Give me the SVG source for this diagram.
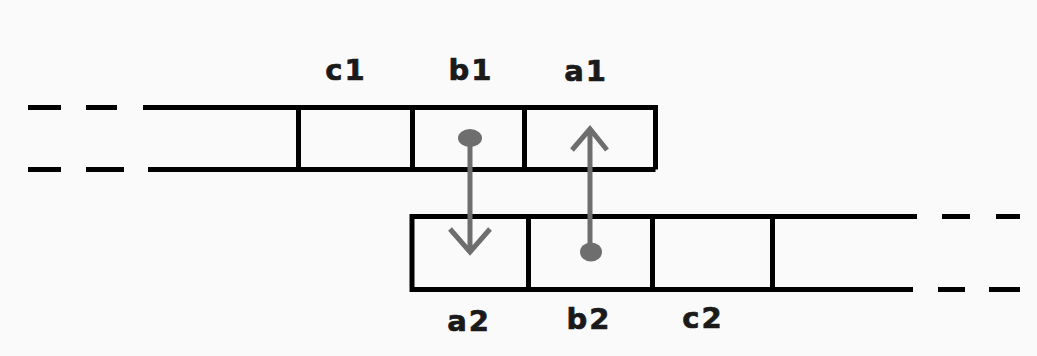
<svg xmlns="http://www.w3.org/2000/svg" width="1037" height="356" viewBox="0 0 1037 356">
  <style>
    .edge { fill: none; stroke: #000; stroke-width: 5; }
    .label { font-family: "DejaVu Sans", "Liberation Sans", sans-serif; font-weight: bold; font-size: 29px; fill: #1a1a1a; stroke: #1a1a1a; stroke-width: 0.7; text-anchor: middle; letter-spacing: 2px; }
    .link { fill: none; stroke: #6e6e6e; stroke-width: 5; }
    .dot { fill: #6e6e6e; }
  </style>
  <rect width="1037" height="356" fill="#fafafa"/>

  <!-- upper array, continuing off to the left -->
  <g id="array-1">
    <path class="edge" d="M28 107.5H61M86 107.5H117M143 107.5H655.5V169.5M28 169.5H61M86 169.5H124M148 169.5H655.5"/>
    <g id="cell-c1">
      <path class="edge" d="M298.5 107.5V169.5"/>
      <text class="label" x="346" y="80">c1</text>
    </g>
    <g id="cell-b1">
      <path class="edge" d="M412.5 107.5V169.5"/>
      <text class="label" x="471" y="80">b1</text>
    </g>
    <g id="cell-a1">
      <path class="edge" d="M524.5 107.5V169.5"/>
      <text class="label" x="586" y="81">a1</text>
    </g>
  </g>

  <!-- lower array, continuing off to the right -->
  <g id="array-2">
    <path class="edge" d="M917 216.5H412V289.5H913M942 216.5H970M996 216.5H1020M938 289.5H965M989 289.5H1020"/>
    <g id="cell-a2">
      <text class="label" x="469" y="331">a2</text>
    </g>
    <g id="cell-b2">
      <path class="edge" d="M528.5 216.5V289.5"/>
      <text class="label" x="589" y="329">b2</text>
    </g>
    <g id="cell-c2">
      <path class="edge" d="M652.5 216.5V289.5"/>
      <text class="label" x="703" y="328">c2</text>
    </g>
    <g id="cell-rest">
      <path class="edge" d="M772.5 216.5V289.5"/>
    </g>
  </g>

  <!-- pointers between the two arrays -->
  <g id="connectors">
    <ellipse class="dot" cx="470" cy="138" rx="12" ry="9"/>
    <path class="link" d="M470 138V252M450 229L470 252L490 229"/>
    <ellipse class="dot" cx="591" cy="252" rx="11" ry="9.5"/>
    <path class="link" d="M590 252V130M572 150L590 129L607 150"/>
  </g>
</svg>
